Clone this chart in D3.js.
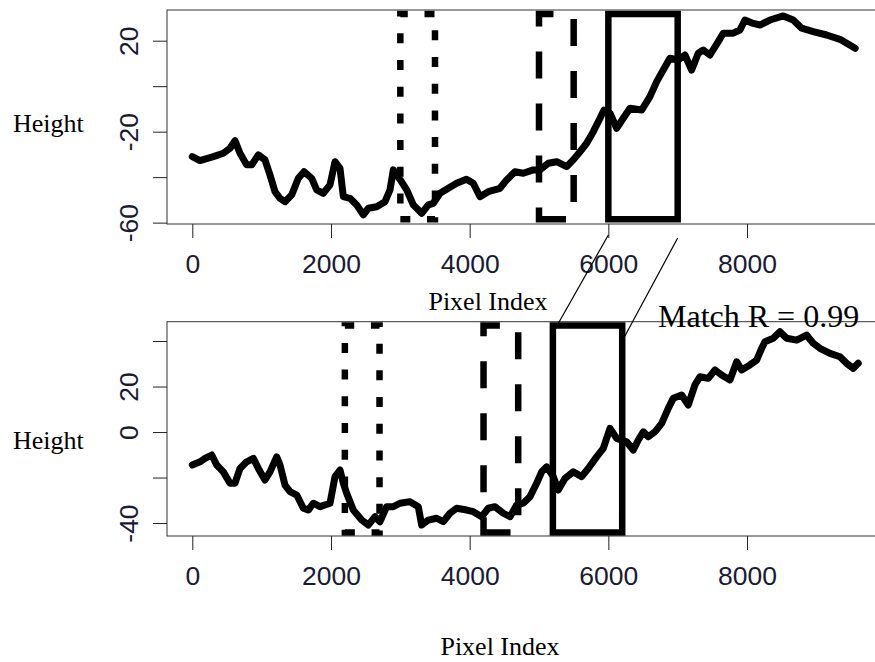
<!DOCTYPE html>
<html>
<head>
<meta charset="utf-8">
<script src="https://cdn.jsdelivr.net/npm/d3@7"></script>
<style>
    body { margin: 0; background: #fff; }
    .tick text { font-family: "Liberation Sans", Arial, sans-serif; font-size: 26.5px; fill: #1a1a33; }
    .tick line { stroke: #222; }
    .serif { font-family: "Liberation Serif", "Times New Roman", serif; fill: #000; }
</style>
</head>
<body>
<svg id="chart"></svg>
<script>
// Top profile (pixel index, height)
const topX = [0, 111, 303, 447, 544, 616, 688, 784, 857, 952, 1048, 1120, 1193, 1265, 1337, 1433, 1529, 1611, 1722, 1794,
    1889, 1986, 2058, 2130, 2178, 2274, 2371, 2466, 2538, 2659, 2779, 2851, 2899, 2995, 3092, 3187, 3308, 3403, 3476, 3572,
    3692, 3813, 3953, 4052, 4149, 4268, 4437, 4533, 4653, 4773, 4917, 5014, 5134, 5255, 5399, 5494, 5591, 5687, 5783, 5880,
    5937, 6024, 6120, 6215, 6312, 6480, 6600, 6697, 6792, 6888, 7008, 7105, 7201, 7297, 7369, 7465, 7585, 7657, 7801, 7898,
    7970, 8090, 8187, 8331, 8522, 8666, 8788, 8955, 9148, 9340, 9560];
const topY = [-31.0, -32.7, -31.0, -29.5, -27.3, -24.0, -29.5, -34.6, -34.6, -30.2, -32.4, -39.0, -46.4, -49.3, -50.8, -47.8, -40.5, -37.6, -40.5, -45.6,
    -47.1, -43.4, -33.2, -36.1, -48.6, -49.3, -52.2, -56.6, -53.7, -53.0, -50.8, -45.6, -36.8, -41.0, -45.6, -52.2, -55.9, -52.2, -51.5, -47.1,
    -44.9, -42.7, -40.9, -42.7, -48.6, -46.4, -44.9, -41.2, -37.6, -38.3, -36.8, -36.8, -33.9, -33.2, -35.4, -32.4, -28.8, -25.1, -20.0, -14.1,
    -10.5, -11.9, -18.5, -14.1, -9.7, -10.5, -4.6, 2.0, 7.1, 12.3, 11.5, 13.7, 7.1, 14.5, 15.9, 13.7, 19.6, 23.3, 23.3, 24.7,
    29.1, 27.6, 26.9, 29.1, 30.9, 29.1, 25.5, 24.0, 22.5, 20.6, 16.7];

// Bottom profile
const botX = [0, 111, 183, 280, 352, 447, 544, 616, 688, 784, 880, 952, 1048, 1120, 1217, 1265, 1337, 1409, 1506, 1601,
    1673, 1745, 1842, 1986, 2058, 2130, 2178, 2226, 2322, 2443, 2538, 2635, 2707, 2803, 2899, 2995, 3139, 3259, 3308, 3403,
    3524, 3620, 3716, 3813, 3957, 4052, 4173, 4269, 4365, 4485, 4582, 4678, 4773, 4870, 4966, 5039, 5111, 5206, 5278, 5374,
    5494, 5615, 5710, 5831, 5927, 6024, 6120, 6264, 6360, 6432, 6504, 6576, 6673, 6769, 6864, 6936, 7057, 7153, 7249, 7321,
    7441, 7538, 7634, 7754, 7851, 7923, 8042, 8139, 8211, 8259, 8378, 8474, 8571, 8716, 8860, 8955, 9052, 9196, 9340, 9436,
    9532, 9604];
const botY = [-14.5, -13.1, -11.6, -10.1, -14.5, -17.5, -22.5, -22.5, -16.0, -13.1, -11.6, -16.0, -21.1, -17.5, -10.9, -14.5, -23.3, -26.2, -27.7, -33.5,
    -34.3, -31.3, -32.8, -31.3, -19.6, -16.7, -22.5, -26.9, -34.3, -38.7, -40.9, -37.2, -39.4, -32.8, -32.8, -31.3, -30.6, -32.8, -40.9, -38.7,
    -37.9, -39.4, -35.7, -33.5, -34.3, -35.0, -37.2, -33.5, -32.8, -35.7, -37.2, -32.1, -31.3, -28.4, -22.5, -17.5, -15.3, -19.6, -25.5, -20.4,
    -17.5, -19.6, -16.0, -10.9, -7.2, 1.6, -2.8, -4.3, -7.9, -3.5, 0.1, -2.1, 0.1, 3.8, 10.4, 14.8, 16.3, 11.9, 20.7, 24.3,
    23.6, 27.3, 25.1, 22.9, 30.9, 27.3, 29.5, 31.6, 36.8, 39.7, 41.2, 44.1, 41.2, 40.4, 42.6, 39.0, 36.8, 34.6, 33.1, 30.2,
    28.0, 30.2];

// Windows (dotted, dashed, solid)
const topWinStart = [3000, 5000, 6000];
const topWinEnd = [3500, 5500, 7000];
const topWinRange = [-58.5, 31.7];
const botWinStart = [2200, 4200, 5200];
const botWinEnd = [2700, 4700, 6200];
const botWinRange = [-44.2, 46.8];

// Ticks
const xTicks = [0, 2000, 4000, 6000, 8000];
const topYTicks = [-60, -40, -20, 0, 20];
const topYLabels = [-60, -20, 20];
const botYTicks = [-40, -20, 0, 20, 40];
const botYLabels = [-40, 0, 20];

const matchText = "Match R = 0.99";

const width = 875, height = 662;
const svg = d3.select("#chart").attr("width", width).attr("height", height);

const left = 167, right = 885;
const x = d3.scaleLinear().domain([-365, 9990]).range([left, right]);

const dashes = ["10 16.7", "27 25", null];

function drawPanel(p, idx) {
    const y = d3.scaleLinear().domain(p.yDomain).range([p.bottom, p.top]);

    svg.append("clipPath").attr("id", `clip${idx}`)
        .append("rect")
        .attr("x", left).attr("y", p.top)
        .attr("width", right - left).attr("height", p.bottom - p.top);

    const g = svg.append("g");

    // Profile line
    const line = d3.line()
        .x(d => x(d[0]))
        .y(d => y(d[1]));

    g.append("path")
        .datum(d3.zip(p.xs, p.ys))
        .attr("clip-path", `url(#clip${idx})`)
        .attr("fill", "none")
        .attr("stroke", "#000")
        .attr("stroke-width", 7)
        .attr("stroke-linejoin", "round")
        .attr("stroke-linecap", "round")
        .attr("d", line);

    // Window rectangles
    p.starts.forEach((s, i) => {
        const x0 = x(s), x1 = x(p.ends[i]);
        const yb = y(p.range[0]), yt = y(p.range[1]);
        const path = d3.path();
        path.moveTo(x0, yb);
        path.lineTo(x1, yb);
        path.lineTo(x1, yt);
        path.lineTo(x0, yt);
        path.closePath();
        g.append("path")
            .attr("clip-path", `url(#clip${idx})`)
            .attr("d", path.toString())
            .attr("fill", "none")
            .attr("stroke", "#000")
            .attr("stroke-width", 6.5)
            .attr("stroke-dasharray", dashes[i])
            .attr("stroke-linecap", "butt")
            .attr("stroke-linejoin", "miter");
    });

    // Box
    g.append("rect")
        .attr("x", left).attr("y", p.top)
        .attr("width", right - left).attr("height", p.bottom - p.top)
        .attr("fill", "none")
        .attr("stroke", "#333")
        .attr("stroke-width", 1);

    // Y axis
    const yAxis = g.append("g")
        .attr("transform", `translate(${left},0)`)
        .call(d3.axisLeft(y)
            .tickValues(p.yTicks)
            .tickSize(14)
            .tickSizeOuter(0)
            .tickFormat(d => p.yLabels.includes(d) ? String(d) : ""));
    yAxis.select(".domain").remove();
    yAxis.selectAll(".tick text")
        .attr("transform", "rotate(-90)")
        .attr("x", 0)
        .attr("y", -29)
        .attr("dy", null)
        .attr("text-anchor", "middle");

    // X axis
    const xAxis = g.append("g")
        .attr("transform", `translate(0,${p.bottom})`)
        .call(d3.axisBottom(x)
            .tickValues(xTicks)
            .tickSize(14)
            .tickSizeOuter(0)
            .tickPadding(16)
            .tickFormat(d3.format("d")));
    xAxis.select(".domain").remove();

    // Axis titles
    g.append("text")
        .attr("class", "serif")
        .attr("x", 13)
        .attr("y", p.heightBaseline)
        .style("font-size", "26px")
        .text("Height");

    g.append("text")
        .attr("class", "serif")
        .attr("x", p.xTitleX)
        .attr("y", p.xTitleBaseline)
        .attr("text-anchor", "middle")
        .style("font-size", "26px")
        .text("Pixel Index");

    return y;
}

const yTop = drawPanel({
    top: 10, bottom: 224, yDomain: [-60.6, 33.5],
    yTicks: topYTicks, yLabels: topYLabels,
    xs: topX, ys: topY,
    starts: topWinStart, ends: topWinEnd, range: topWinRange,
    heightBaseline: 131.7, xTitleX: 488, xTitleBaseline: 310
}, 0);

const yBot = drawPanel({
    top: 321.7, bottom: 536, yDomain: [-45.7, 48.5],
    yTicks: botYTicks, yLabels: botYLabels,
    xs: botX, ys: botY,
    starts: botWinStart, ends: botWinEnd, range: botWinRange,
    heightBaseline: 449, xTitleX: 500, xTitleBaseline: 655
}, 1);

// Connector lines between the matched windows
const links = [
    { from: topWinStart[2], to: botWinStart[2], y1: 235, y2: 333 },
    { from: topWinEnd[2], to: botWinEnd[2], y1: 238, y2: 341 }
];
svg.selectAll(".link")
    .data(links)
    .enter().append("line")
    .attr("class", "link")
    .attr("x1", d => x(d.from))
    .attr("y1", d => d.y1)
    .attr("x2", d => x(d.to))
    .attr("y2", d => d.y2)
    .attr("stroke", "#000")
    .attr("stroke-width", 1.2);

svg.append("text")
    .attr("class", "serif")
    .attr("x", 658)
    .attr("y", 327)
    .style("font-size", "32px")
    .text(matchText);
</script>
</body>
</html>
